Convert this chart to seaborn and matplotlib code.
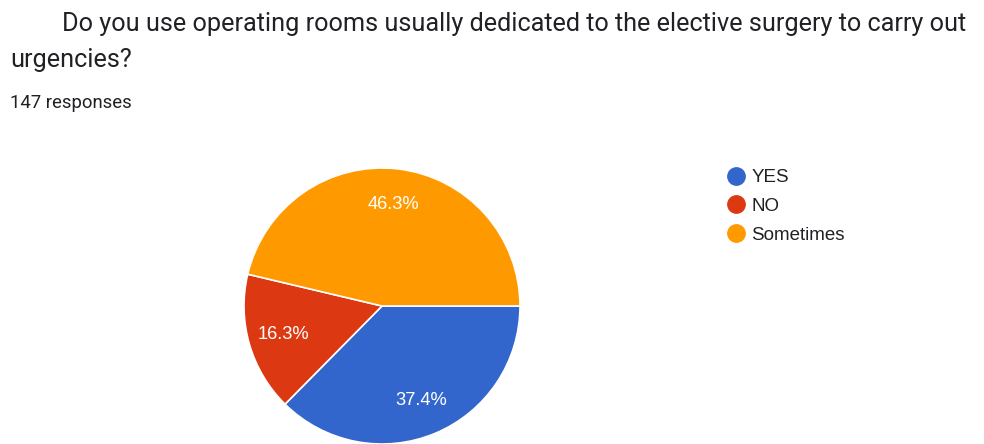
import matplotlib
matplotlib.use("Agg")
import matplotlib.pyplot as plt
import seaborn as sns
from matplotlib.lines import Line2D

categories = ["YES", "NO", "Sometimes"]
values = [37.4, 16.3, 46.3]
colors = ["#3366CC", "#DC3912", "#FF9900"]
title_line1 = "Do you use operating rooms usually dedicated to the elective surgery to carry out"
title_line2 = "urgencies?"
subtitle = "147 responses"

sns.set_theme(style="white")
plt.rcParams["font.family"] = ["Roboto", "DejaVu Sans"]

fig = plt.figure(figsize=(9.84, 4.44), dpi=100)
ax = fig.add_axes([0, 0, 1, 1])
wedges, texts, autotexts = ax.pie(
    values, colors=colors, startangle=0, counterclock=False,
    center=(382, 138), radius=138, autopct="%.1f%%", pctdistance=0.74,
    wedgeprops=dict(edgecolor="white", linewidth=1.2),
    textprops=dict(color="white", fontsize=13.2, family=["Liberation Sans", "DejaVu Sans"]),
)
ax.set_xlim(0, 984)
ax.set_ylim(0, 444)
ax.set_aspect("auto")
ax.axis("off")

W, H = 984, 444
fig.text(62 / W, 1 - 31 / H, title_line1, fontsize=18.2, color="#202124", va="baseline", ha="left")
fig.text(10 / W, 1 - 67 / H, title_line2, fontsize=18.2, color="#202124", va="baseline", ha="left")
fig.text(10 / W, 1 - 108 / H, subtitle, fontsize=13.3, color="#202124", va="baseline", ha="left")

handles = [Line2D([0], [0], marker="o", linestyle="", markersize=12.5,
                  markerfacecolor=c, markeredgecolor=c) for c in colors]
leg = fig.legend(handles, categories, loc="upper left", bbox_to_anchor=(726 / W, 1 - 169 / H),
                 frameon=False, prop=dict(family=["Liberation Sans", "DejaVu Sans"], size=13.5),
                 handletextpad=0.25, labelspacing=0.62, handlelength=1.1, borderaxespad=0,
                 borderpad=0)
for t in leg.get_texts():
    t.set_color("#202124")

fig.savefig("out.png", dpi=100)
